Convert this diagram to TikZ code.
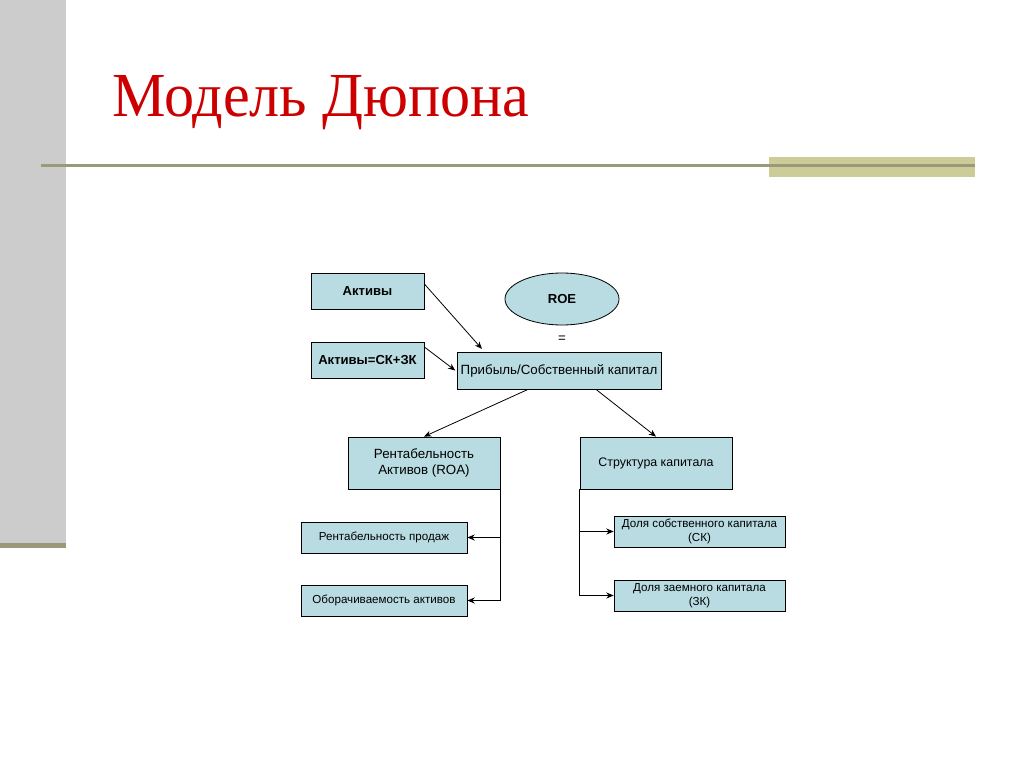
\documentclass[tikz,border=0pt]{standalone}
\usepackage{fontspec}
\setmainfont{Liberation Sans}
\newfontfamily\titlefont{Liberation Serif}
\usetikzlibrary{arrows.meta,shapes.geometric,calc}
\definecolor{boxfill}{HTML}{B8DCE2}
\definecolor{titlered}{HTML}{CC0000}
\definecolor{olive}{HTML}{9A9A78}
\definecolor{khaki}{HTML}{CCCC99}
\definecolor{sidegray}{HTML}{CCCCCC}
\tikzset{
  box/.style={draw=black, fill=boxfill, line width=0.6pt, inner sep=0pt, align=center, font=\fontsize{10}{12}\selectfont},
  smallbox/.style={box, font=\fontsize{8.7}{10.5}\selectfont},
  boldbox/.style={box, font=\bfseries\fontsize{9.8}{12}\selectfont},
  arr/.style={-{Stealth[length=5.5pt,width=4.5pt]}, line width=0.6pt},
  ln/.style={line width=0.6pt}
}
\begin{document}
\begin{tikzpicture}[x=0.75pt,y=-0.75pt]
\useasboundingbox (0,0) rectangle (1024,767);
\fill[white] (0,0) rectangle (1024,767);
% decoration
\fill[sidegray] (0,0) rectangle (66,545);
\fill[olive] (0,543) rectangle (66,548);
\fill[khaki] (769,157) rectangle (975,177);
\draw[olive, line width=2.25pt] (41,165) -- (975,165);
% title
\node[anchor=base west, inner sep=0pt, text=titlered, font=\titlefont\fontsize{47}{50}\selectfont] (title) at (112,117) {\scalebox{0.96}[1]{Модель Дюпона}};
% nodes
\node[boldbox, minimum width=84.75pt, minimum height=27pt] (akt) at (367.5,291) {Активы};
\node[boldbox, minimum width=84.75pt, minimum height=27pt] (akt2) at (367.5,360) {Активы=СК+ЗК};
\node[boldbox, ellipse, minimum width=85.5pt, minimum height=39pt] (roe) at (562,299) {ROE};
\node[inner sep=0pt, font=\fontsize{10}{12}\selectfont] (eq) at (562,339) {=};
\node[box, minimum width=153pt, minimum height=27.75pt] (prib) at (559,370.5) {Прибыль/Собственный капитал};
\node[box, minimum width=114pt, minimum height=39pt] (roa) at (424,463) {Рентабельность\\Активов (ROA)};
\node[box, minimum width=114pt, minimum height=39pt, font=\fontsize{9.3}{11}\selectfont] (str) at (656,463) {Структура капитала};
\node[smallbox, minimum width=124.5pt, minimum height=23.25pt] (rp) at (384,537.5) {Рентабельность продаж};
\node[smallbox, minimum width=124.5pt, minimum height=23.25pt] (oa) at (384,600.5) {Оборачиваемость активов};
\node[smallbox, minimum width=128.25pt, minimum height=23.25pt] (dsk) at (699.5,531.5) {Доля собственного капитала\\(СК)};
\node[smallbox, minimum width=128.25pt, minimum height=23.25pt] (dzk) at (699.5,595.5) {Доля заемного капитала\\(ЗК)};
% connectors
\draw[arr] ([yshift=5.25pt]akt.east) -- ([xshift=19pt,yshift=2pt]prib.north west);
\draw[arr] ([yshift=9.75pt]akt2.east) -- ([xshift=-1pt]prib.west);
\draw[arr] ([xshift=-23.25pt]prib.south) -- (roa.north);
\draw[arr] ([xshift=27.75pt]prib.south) -- (str.north);
\draw[ln] (roa.south east) -- (roa.south east |- oa.east);
\draw[arr] (roa.south east |- rp.east) -- (rp.east);
\draw[arr] (roa.south east |- oa.east) -- (oa.east);
\draw[ln] (str.south west) -- (str.south west |- dzk.west);
\draw[arr] (str.south west |- dsk.west) -- (dsk.west);
\draw[arr] (str.south west |- dzk.west) -- (dzk.west);
\end{tikzpicture}
\end{document}
